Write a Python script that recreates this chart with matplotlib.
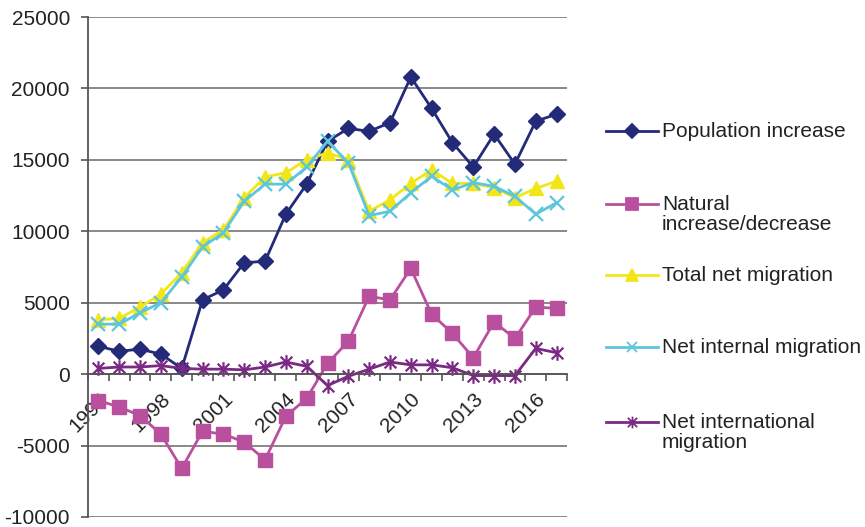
import numpy as np
import matplotlib
matplotlib.use("Agg")
import matplotlib.pyplot as plt
from matplotlib.lines import Line2D
from matplotlib.path import Path

plt.rcParams['font.family'] = ['Liberation Sans', 'DejaVu Sans']
plt.rcParams['axes.unicode_minus'] = False

years = list(range(1995, 2018))
label_years = [1995, 1998, 2001, 2004, 2007, 2010, 2013, 2016]

population_increase = [1950, 1600, 1750, 1400, 400, 5200, 5900, 7800, 7900, 11200, 13300,
                       16300, 17200, 17000, 17600, 20800, 18600, 16200, 14500, 16800, 14700,
                       17700, 18200]
natural_change = [-1850, -2300, -2900, -4200, -6600, -4000, -4200, -4750, -6000, -2950, -1700,
                  750, 2300, 5450, 5200, 7400, 4200, 2850, 1150, 3650, 2500, 4700, 4600]
total_net_migration = [3800, 3900, 4700, 5600, 7100, 9200, 10100, 12350, 13800, 14100, 15000,
                       15500, 15000, 11400, 12200, 13350, 14300, 13350, 13350, 13050, 12350,
                       13000, 13500]
net_internal = [3500, 3500, 4300, 5000, 6800, 8900, 9900, 12100, 13300, 13300, 14500,
                16300, 14800, 11100, 11400, 12700, 13850, 12900, 13400, 13150, 12450,
                11200, 12000]
net_international = [400, 500, 500, 600, 400, 350, 350, 300, 500, 850, 550,
                     -800, -150, 350, 850, 650, 650, 450, -100, -100, -100, 1800, 1500]

# Excel style star: vertical line plus an x
star = Path([(0, -1), (0, 1), (-0.8, -0.8), (0.8, 0.8), (-0.8, 0.8), (0.8, -0.8)],
            [Path.MOVETO, Path.LINETO, Path.MOVETO, Path.LINETO, Path.MOVETO, Path.LINETO])

series = [
    ("Population increase", population_increase, "#232a78", "D", 8.5),
    ("Natural\nincrease/decrease", natural_change, "#b9509e", "s", 10),
    ("Total net migration", total_net_migration, "#f2e619", "^", 10),
    ("Net internal migration", net_internal, "#5ec6dc", "x", 9.5),
    ("Net international\nmigration", net_international, "#7b2a83", star, 10.5),
]

fig = plt.figure(figsize=(8.65, 5.27), dpi=100)
ax = fig.add_axes([88 / 865, 10 / 527, 479 / 865, 500 / 527])

x = np.arange(len(years))
for name, vals, col, mk, ms in series:
    mew = 1.6 if (mk == "x" or mk is star) else 1
    ax.plot(x, vals, color=col, lw=2, marker=mk, markersize=ms,
            markeredgewidth=mew, markeredgecolor=col, markerfacecolor=col)

ax.set_xlim(-0.5, len(years) - 0.5)
ax.set_ylim(-10000, 25000)
ax.set_yticks(np.arange(-10000, 25001, 5000))
ax.yaxis.grid(True, color="#7f7f7f", lw=1.3)
ax.set_axisbelow(True)

for s in ("top", "right"):
    ax.spines[s].set_visible(False)
ax.spines["bottom"].set_position(("data", 0))
ax.spines["bottom"].set_color("#555555")
ax.spines["left"].set_color("#555555")
ax.spines["left"].set_linewidth(1.3)
ax.spines["bottom"].set_linewidth(1.3)

ax.set_xticks([years.index(y) for y in label_years])
ax.set_xticklabels([str(y) for y in label_years], rotation=45, ha="right", va="top",
                   rotation_mode="anchor", fontsize=15, color="#222222")
ax.set_xticks(np.arange(-0.5, len(years)), minor=True)
ax.tick_params(axis="x", which="major", length=0, pad=11)
ax.tick_params(axis="x", which="minor", length=5, direction="out", color="#555555", width=1.2)
ax.tick_params(axis="y", length=5, direction="out", color="#555555", width=1.2,
               labelsize=15, labelcolor="#222222", pad=8)

# legend drawn by hand to mimic spacing
leg_y = [131, 204, 275, 347, 422]
for (name, vals, col, mk, ms), yy in zip(series, leg_y):
    yf = 1 - yy / 527
    fig.add_artist(Line2D([606 / 865, 658 / 865], [yf, yf], color=col, lw=2,
                          transform=fig.transFigure))
    fig.add_artist(Line2D([632 / 865], [yf], color=col, marker=mk, markersize=ms * 0.8,
                          markeredgecolor=col, markerfacecolor=col, markeredgewidth=1.3,
                          transform=fig.transFigure))
    fig.text(662 / 865, yf + 9 / 527, name, fontsize=15, color="#222222",
             ha="left", va="top", linespacing=1.1)

fig.savefig("out.png", dpi=100)
